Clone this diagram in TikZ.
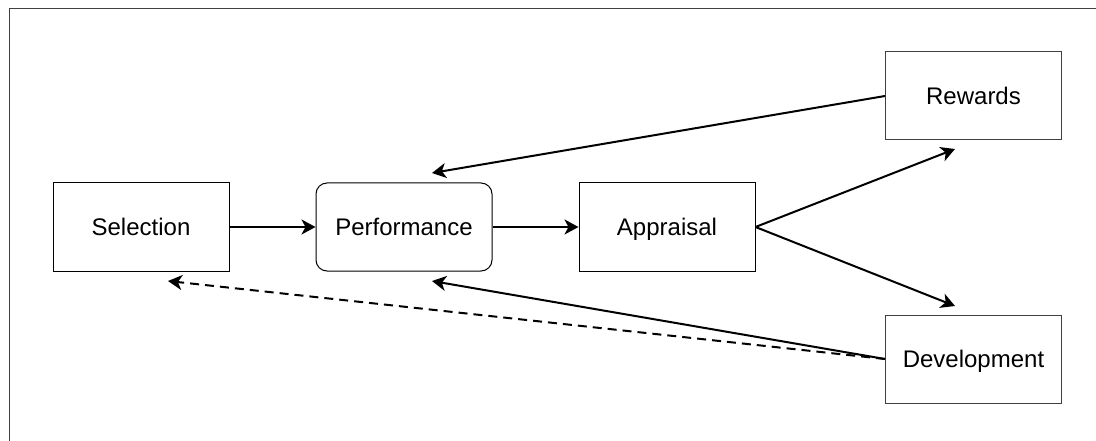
\documentclass[tikz,border=0pt]{standalone}
\usepackage{fontspec}
\setmainfont{Liberation Sans}
\usetikzlibrary{arrows.meta}
\begin{document}
\begin{tikzpicture}[x=1pt,y=-1pt,
  box/.style={draw=black,line width=1pt,minimum width=176pt,minimum height=88pt,inner sep=0pt,text height=21pt,text depth=4pt,font=\fontsize{24}{28}\selectfont},
  rbox/.style={box,rounded corners=11pt},
  gbox/.style={box,draw=black!75},
  arr/.style={line width=2pt,-{Stealth[length=14pt,width=15pt,inset=4pt]}},
  darr/.style={arr,dash pattern=on 9pt off 6pt},
  frame/.style={draw=black!75,line width=0.9pt}]
\useasboundingbox (0,0) rectangle (1096,441);
\clip (0,0) rectangle (1096,441);
\draw[frame] (9,460) -- (9,8) -- (1110,8);
\node[box] (sel) at (141,227) {Selection};
\node[rbox] (perf) at (404,227) {Performance};
\node[box] (app) at (667,227) {Appraisal};
\node[gbox] (rew) at (973.5,96) {Rewards};
\node[gbox] (dev) at (973.5,359) {Development};
\coordinate (pt) at (432,173);
\coordinate (pb) at (432,281);
\coordinate (sb) at (168,281);
\coordinate (rt) at (955,149);
\coordinate (dt) at (955,306);
\draw[arr] (sel.east) -- (perf.west);
\draw[arr] (perf.east) -- (app.west);
\draw[arr] (rew.west) -- (pt);
\draw[arr] (dev.west) -- (pb);
\draw[darr] (dev.west) -- (sb);
\draw[arr] (app.east) -- (rt);
\draw[arr] (app.east) -- (dt);
\end{tikzpicture}
\end{document}
